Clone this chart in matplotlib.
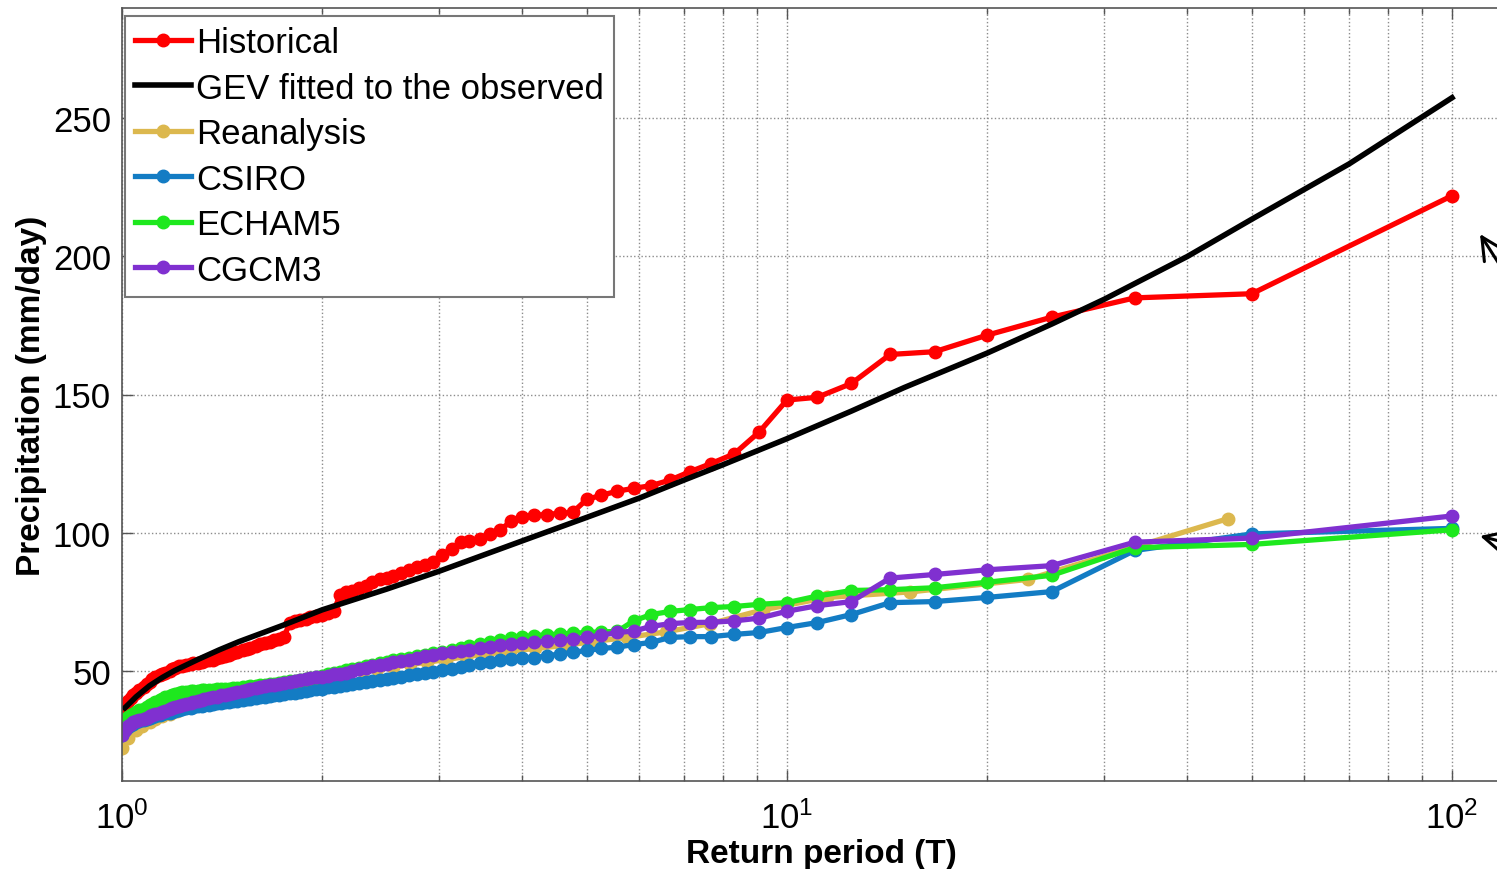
import numpy as np
import matplotlib as mpl
import matplotlib.pyplot as plt
from matplotlib.ticker import LogLocator, NullFormatter

mpl.rcParams['font.family'] = ['Liberation Sans', 'DejaVu Sans']
mpl.rcParams['xtick.direction'] = 'in'
mpl.rcParams['ytick.direction'] = 'in'
mpl.rcParams['xtick.top'] = True
mpl.rcParams['ytick.right'] = True

# ===================== Data =====================
# return periods of the 100-year records (rank 1 = largest)
T_100 = [100, 50, 33.33, 25, 20, 16.67, 14.29, 12.5, 11.11, 10,
         9.09, 8.33, 7.69, 7.14, 6.67, 6.25, 5.88, 5.56, 5.26, 5.0,
         4.76, 4.55, 4.35, 4.17, 4.0, 3.85, 3.70, 3.57, 3.45, 3.33,
         3.23, 3.13, 3.03, 2.94, 2.86, 2.78, 2.70, 2.63, 2.56, 2.5,
         2.44, 2.38, 2.33, 2.27, 2.22, 2.17, 2.13, 2.08, 2.04, 2.0,
         1.96, 1.92, 1.89, 1.85, 1.82, 1.79, 1.75, 1.72, 1.69, 1.67,
         1.64, 1.61, 1.59, 1.56, 1.54, 1.52, 1.49, 1.47, 1.45, 1.43,
         1.41, 1.39, 1.37, 1.35, 1.33, 1.32, 1.30, 1.28, 1.27, 1.25,
         1.23, 1.22, 1.20, 1.19, 1.18, 1.16, 1.15, 1.14, 1.12, 1.11,
         1.10, 1.09, 1.08, 1.06, 1.05, 1.04, 1.03, 1.02, 1.01, 1.0]

historical = [222, 186.5, 185, 178, 171.5, 165.5, 164.5, 154, 149, 148,
              136.5, 128.5, 125, 122, 119, 117, 116, 115, 113.5, 112,
              107.3, 107, 106.5, 106.3, 105.8, 104, 101, 99.5, 97.5, 97,
              96.4, 94, 92, 89.5, 88.4, 87.5, 86.6, 85.5, 84.3, 83.5,
              83, 82, 80.8, 80, 79, 78.3, 77.5, 71.5, 71, 70.3,
              69.8, 69.3, 68.8, 68.3, 67.8, 67.4, 62, 61.5, 61, 60.5,
              60, 59.5, 59, 58.3, 57.8, 57.3, 56.7, 56.2, 55.7, 55.2,
              54.8, 54.4, 54, 53.7, 53.4, 53.1, 52.9, 52.6, 52.4, 52.1,
              51.8, 51.5, 51, 50.5, 50, 49.3, 48.8, 48.3, 47.5, 46.8,
              46, 45, 44, 43, 42, 41, 40, 39, 37.8, 36.5]

csiro = [101.5, 99.5, 93.5, 78.6, 76.5, 75, 74.6, 70.3, 67.4, 65.6,
         63.8, 63.1, 62.3, 62.3, 62, 60.2, 59.4, 58.5, 58, 57.3,
         56.6, 56, 55.3, 54.7, 54.4, 54.1, 53.7, 53.2, 52.6, 51.9,
         51.3, 50.7, 50.2, 49.6, 49.2, 48.7, 48.3, 47.8, 47.4, 47,
         46.6, 46.2, 45.8, 45.4, 45, 44.7, 44.4, 44.2, 44, 43.5,
         43.2, 42.9, 42.6, 42.3, 42, 41.8, 41.5, 41.2, 41, 40.8,
         40.6, 40.4, 40.1, 39.8, 39.6, 39.4, 39.1, 38.9, 38.7, 38.5,
         38.3, 38.1, 37.9, 37.7, 37.5, 37.3, 37.1, 36.9, 36.6, 36.3,
         36, 35.7, 35.4, 35.1, 34.8, 34.5, 34.2, 33.9, 33.6, 33.3,
         33, 32.6, 32.2, 31.8, 31.3, 30.8, 30.2, 29.5, 28.5, 26.5]

echam5 = [101, 95.7, 94.5, 84.5, 82, 80, 79.3, 79, 77, 74.6,
          74, 73.2, 72.8, 72.1, 71.4, 70.3, 68, 64.2, 64, 63.8,
          63.5, 63.2, 63, 62.6, 62.3, 61.8, 61.2, 60.5, 59.8, 59,
          58.3, 57.5, 56.9, 56.3, 55.8, 55.2, 54.7, 54.2, 53.7, 53.1,
          52.6, 52.1, 51.6, 51.1, 50.6, 50.1, 49.6, 49.1, 48.6, 48.1,
          47.7, 47.3, 47, 46.7, 46.4, 46.1, 45.8, 45.5, 45.3, 45.1,
          44.9, 44.7, 44.5, 44.3, 44.1, 43.9, 43.8, 43.6, 43.5, 43.4,
          43.3, 43.2, 43.1, 43, 42.9, 42.8, 42.7, 42.6, 42.5, 42.4,
          42.2, 42, 41.6, 41.2, 40.8, 40.3, 39.8, 39.3, 38.6, 38,
          37.4, 36.8, 36.2, 35.6, 35, 34.4, 33.8, 33.2, 32.5, 31.5]

cgcm3 = [106, 98, 96.5, 88, 86.5, 84.8, 83.5, 75, 73.5, 71.5,
         69, 68, 67.5, 67.4, 67, 66, 64.3, 63.8, 62.8, 62,
         61.4, 61, 60.6, 60.3, 60, 59.6, 59.2, 58.7, 58, 57.6,
         57.2, 56.7, 56.2, 55.6, 55.1, 54.5, 54, 53.5, 53, 52.5,
         52, 51.5, 51, 50.6, 49.8, 49.3, 48.9, 48.6, 48.2, 47.8,
         47.6, 47.3, 47, 46.6, 46.3, 45.9, 45.5, 45.2, 44.9, 44.6,
         44.3, 44, 43.7, 43.3, 43, 42.7, 42.3, 42, 41.6, 41.3,
         41, 40.6, 40.3, 40, 39.6, 39.3, 39, 38.6, 38.3, 38,
         37.5, 37.1, 36.7, 36.3, 36, 35.5, 35, 34.6, 34.2, 33.8,
         33.4, 33, 32.6, 32.2, 31.7, 31.2, 30.5, 29.8, 28.5, 26.5]

# reanalysis record is 46 years long
T_46 = [46, 23, 15.33, 11.5, 9.2, 7.67, 6.57, 5.75, 5.11, 4.6,
        4.18, 3.83, 3.54, 3.29, 3.07, 2.88, 2.71, 2.56, 2.42, 2.3,
        2.19, 2.09, 2.0, 1.92, 1.84, 1.77, 1.7, 1.64, 1.59, 1.53,
        1.48, 1.44, 1.39, 1.35, 1.31, 1.28, 1.24, 1.21, 1.18, 1.15,
        1.12, 1.1, 1.07, 1.05, 1.02, 1.0]
reanalysis = [105, 83, 78.5, 76.5, 72, 67, 64, 62, 60.5, 59,
              58, 57, 56, 55, 54, 53, 52.2, 51.4, 50.5, 49.8,
              49, 48.3, 47.6, 46.8, 46, 45.2, 44.4, 43.6, 42.8, 42,
              41.2, 40.4, 39.6, 38.8, 38, 37.2, 36.3, 35.4, 34.4, 33.4,
              32.3, 31.2, 29.8, 28.3, 25.5, 22]

T_gev = [1.01, 1.03, 1.05, 1.1, 1.15, 1.2, 1.3, 1.4, 1.5, 1.75, 2.0, 2.5,
         3.0, 4.0, 5.0, 6.0, 7.0, 8.0, 10.0, 12.5, 15.0, 20.0, 25.0,
         30.0, 40.0, 50.0, 70.0, 100.0]
gev = [36.5, 38.5, 40.5, 44.5, 47.5, 50.0, 54.0, 57.5, 60.5, 66.5, 72.0,
       79.5, 86.0, 97.0, 105.5, 112.5, 119.0, 124.5, 134.0, 144.0, 152.5,
       165.0, 175.5, 184.5, 200.0, 213.5, 233.5, 257.5]

# ===================== Figure =====================
fig = plt.figure(figsize=(14.97, 8.70), dpi=100)
ax = fig.add_axes([122 / 1497, 88 / 870, 1398 / 1497, 773 / 870])

lw = 3.8
ms = 9
ax.plot(T_100, historical, '-o', color='#ff0000', lw=lw, ms=ms, label='Historical')
ax.plot(T_gev, gev, '-', color='black', lw=4.0, label='GEV fitted to the observed')
ax.plot(T_46, reanalysis, '-o', color='#dcb84e', lw=lw, ms=ms, label='Reanalysis')
ax.plot(T_100, csiro, '-o', color='#137cc4', lw=lw, ms=ms, label='CSIRO')
ax.plot(T_100, echam5, '-o', color='#1ee81e', lw=lw, ms=ms, label='ECHAM5')
ax.plot(T_100, cgcm3, '-o', color='#8030d0', lw=lw, ms=ms, label='CGCM3')

ax.set_xscale('log')
ax.set_xlim(1, 10 ** (1398 / 665))
ax.set_ylim(10, 290)
ax.set_yticks([50, 100, 150, 200, 250])
ax.xaxis.set_minor_locator(LogLocator(base=10, subs=np.arange(2, 10)))
ax.xaxis.set_minor_formatter(NullFormatter())

ax.grid(which='major', axis='both', ls=':', color='#8c8c8c', lw=1.0)
ax.grid(which='minor', axis='x', ls=':', color='#8c8c8c', lw=1.0)

ax.tick_params(which='major', labelsize=25, length=8, width=1, color='#555555')
ax.tick_params(axis='x', which='major', pad=14)
ax.tick_params(axis='y', which='major', pad=8)
ax.tick_params(which='minor', length=4, width=1, color='#555555')
for sp in ax.spines.values():
    sp.set_color('#555555')
    sp.set_linewidth(1.2)

ax.set_xlabel('Return period (T)', fontsize=24, fontweight='bold', labelpad=2)
ax.set_ylabel('Precipitation (mm/day)', fontsize=24, fontweight='bold', labelpad=4)

leg = ax.legend(loc='upper left', bbox_to_anchor=(0.002, 0.99), borderaxespad=0,
                fontsize=25, handlelength=1.6, handletextpad=0.15,
                labelspacing=0.36, borderpad=0.3, fancybox=False,
                framealpha=1, edgecolor='#777777')
leg.get_frame().set_linewidth(1.5)

# arrows pointing at the curves from the (cut off) right margin
ax.annotate('', xy=(1480, 635), xycoords='figure pixels',
            xytext=(1515, 580), textcoords='figure pixels',
            arrowprops=dict(arrowstyle='->', lw=2.2, color='black',
                            mutation_scale=40, shrinkA=0, shrinkB=0))
ax.annotate('', xy=(1480, 333), xycoords='figure pixels',
            xytext=(1530, 320), textcoords='figure pixels',
            arrowprops=dict(arrowstyle='->', lw=2.2, color='black',
                            mutation_scale=40, shrinkA=0, shrinkB=0))

fig.savefig('out.png', dpi=100)
